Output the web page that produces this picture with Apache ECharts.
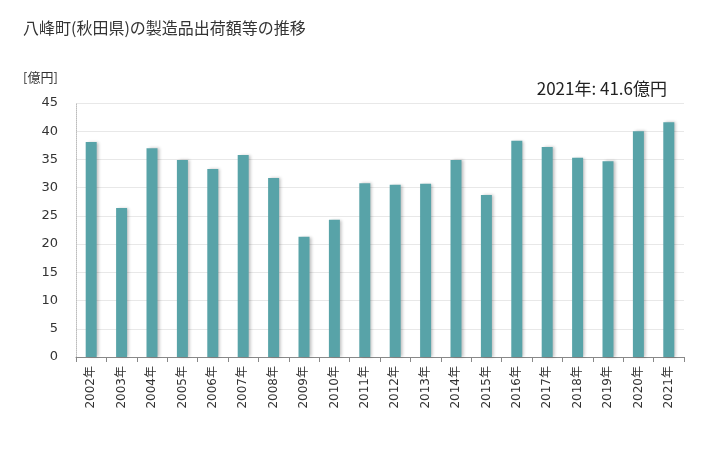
<!DOCTYPE html>
<html><head><meta charset="utf-8">
<script src="https://cdn.jsdelivr.net/npm/echarts@6/dist/echarts.min.js"></script>
<style>html,body{margin:0;padding:0;background:#fff}#c{width:728px;height:450px}</style>
</head><body><div id="c"></div>
<script>
const categories = ['2002年','2003年','2004年','2005年','2006年','2007年','2008年','2009年','2010年','2011年','2012年','2013年','2014年','2015年','2016年','2017年','2018年','2019年','2020年','2021年'];
const values = [38.1, 26.4, 37.0, 34.9, 33.3, 35.8, 31.7, 21.3, 24.3, 30.8, 30.5, 30.7, 34.9, 28.7, 38.3, 37.2, 35.3, 34.7, 40.0, 41.6];
const yTicks = [0,5,10,15,20,25,30,35,40,45];
const titleText = '八峰町(秋田県)の製造品出荷額等の推移';
const unitText = '[億円]';
const noteText = '2021年: 41.6億円';
const font = '"Noto Sans CJK JP", "DejaVu Sans", sans-serif';
const numFont = '"DejaVu Sans", "Noto Sans CJK JP", sans-serif';
const chart = echarts.init(document.getElementById('c'), null, {renderer:'canvas'});
chart.setOption({
  animation:false,
  backgroundColor:'#fff',
  title:[
    {text:titleText,left:18,top:15,textStyle:{fontSize:16,fontWeight:'normal',color:'#333',fontFamily:font}},
    {text:unitText,left:18,top:66,textStyle:{fontSize:13,fontWeight:'normal',color:'#333',fontFamily:font}},
    {text:noteText,right:56,top:75,textStyle:{fontSize:17,fontWeight:'normal',color:'#222',fontFamily:font}}
  ],
  grid:{left:76,right:44,top:103,bottom:93,containLabel:false,outerBoundsMode:'none'},
  xAxis:{type:'category',data:categories,
    axisLine:{lineStyle:{color:'#888'}},
    axisTick:{show:true,alignWithLabel:false,length:5,lineStyle:{color:'#888'}},
    axisLabel:{rotate:90,fontSize:12,color:'#333',fontFamily:numFont,margin:9}},
  yAxis:{type:'value',min:yTicks[0],max:yTicks[yTicks.length-1],interval:5,
    axisLine:{show:true,lineStyle:{color:'#bbb',type:'dotted'}},
    axisTick:{show:false},
    axisLabel:{fontSize:13,color:'#333',fontFamily:numFont,margin:18},
    splitLine:{lineStyle:{color:'#e8e8e8'}}},
  series:[{type:'bar',data:values,barWidth:11,
    itemStyle:{color:'#58a3a8',shadowColor:'rgba(0,0,0,0.25)',shadowBlur:3,shadowOffsetX:2,shadowOffsetY:0}}]
});
</script></body></html>
